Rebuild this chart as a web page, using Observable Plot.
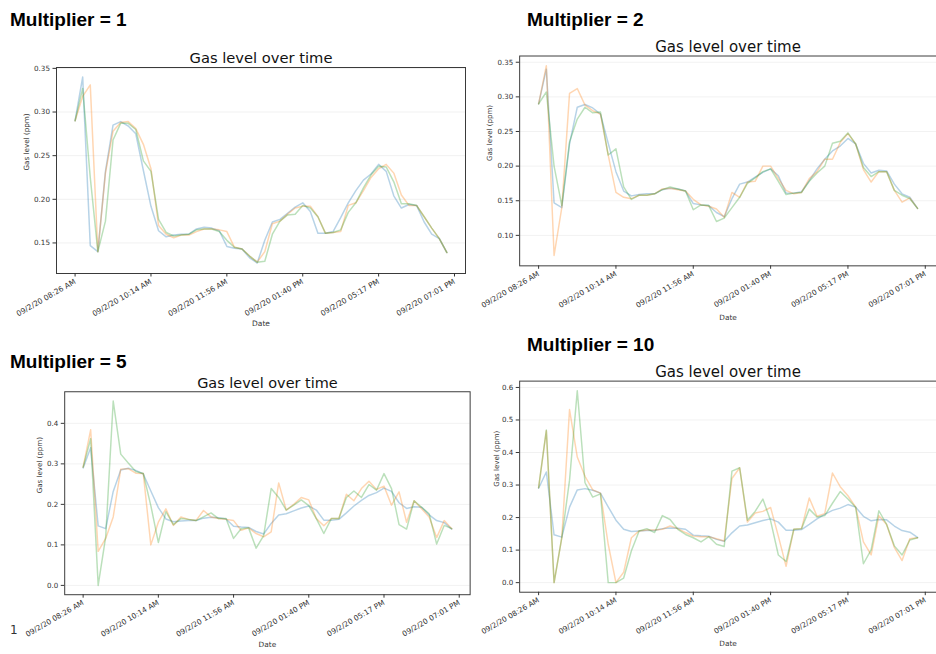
<!DOCTYPE html>
<html>
<head>
<meta charset="utf-8">
<script src="https://cdn.jsdelivr.net/npm/d3@7"></script>
<script src="https://cdn.jsdelivr.net/npm/@observablehq/plot@0.6"></script>
<style>
  html, body { margin: 0; padding: 0; background: #fff; overflow: hidden; }
  #root { position: relative; width: 936px; height: 654px; overflow: hidden; background: #fff; }
  .heading { position: absolute; font-family: "Liberation Sans", Arial, sans-serif; font-weight: bold; font-size: 19px; color: #000; white-space: nowrap; line-height: 22px; }
  .clip { position: absolute; overflow: hidden; }
  .clip svg { position: absolute; left: 0; top: 0; overflow: visible; }
  .stray { position: absolute; font-family: "DejaVu Sans", sans-serif; font-size: 12px; color: #333; }
</style>
</head>
<body>
<div id="root"></div>
<script>
// ---- data ----
const idx = d3.range(50);
const tickIdx = [0, 10, 20, 30, 40, 50];
const dateLabels = ["09/2/20 08:26 AM", "09/2/20 10:14 AM", "09/2/20 11:56 AM", "09/2/20 01:40 PM", "09/2/20 05:17 PM", "09/2/20 07:01 PM"];
const chartTitle = "Gas level over time";
const yLabel = "Gas level (ppm)";
const xLabel = "Date";
const headings = ["Multiplier = 1", "Multiplier = 2", "Multiplier = 5", "Multiplier = 10"];

const base = [0.290,0.340,0.147,0.140,0.232,0.285,0.289,0.284,0.275,0.233,0.192,0.164,0.157,0.159,0.160,0.160,0.166,0.168,0.167,0.164,0.146,0.144,0.143,0.133,0.127,0.153,0.174,0.177,0.184,0.191,0.196,0.186,0.161,0.161,0.163,0.179,0.196,0.210,0.222,0.229,0.240,0.232,0.204,0.190,0.194,0.193,0.174,0.160,0.155,0.139];

const orange1 = [0.290,0.318,0.331,0.140,0.230,0.278,0.288,0.289,0.281,0.263,0.235,0.170,0.160,0.156,0.159,0.159,0.163,0.166,0.166,0.165,0.163,0.145,0.143,0.135,0.128,0.140,0.172,0.175,0.183,0.190,0.192,0.192,0.180,0.161,0.162,0.163,0.193,0.196,0.210,0.225,0.235,0.240,0.230,0.205,0.193,0.193,0.180,0.167,0.155,0.139];
const green1 = [0.290,0.327,0.225,0.140,0.175,0.268,0.287,0.287,0.280,0.244,0.232,0.177,0.162,0.158,0.159,0.160,0.165,0.166,0.166,0.163,0.153,0.145,0.143,0.135,0.128,0.129,0.160,0.175,0.182,0.183,0.193,0.190,0.180,0.161,0.162,0.165,0.185,0.196,0.213,0.228,0.238,0.237,0.220,0.195,0.195,0.193,0.180,0.167,0.155,0.139];

const orange2 = [0.290,0.345,0.071,0.140,0.305,0.312,0.288,0.280,0.275,0.216,0.162,0.155,0.153,0.158,0.158,0.160,0.167,0.168,0.166,0.164,0.152,0.144,0.142,0.138,0.126,0.162,0.155,0.177,0.178,0.200,0.200,0.182,0.165,0.160,0.162,0.182,0.192,0.210,0.210,0.234,0.247,0.232,0.195,0.177,0.192,0.192,0.165,0.148,0.154,0.139];
const green2 = [0.290,0.307,0.200,0.143,0.235,0.268,0.285,0.277,0.278,0.216,0.225,0.170,0.152,0.158,0.158,0.160,0.166,0.170,0.167,0.164,0.137,0.144,0.143,0.120,0.125,0.140,0.155,0.175,0.183,0.192,0.196,0.178,0.159,0.161,0.162,0.178,0.190,0.200,0.233,0.236,0.248,0.232,0.198,0.185,0.192,0.192,0.165,0.158,0.153,0.139];

const orange5 = [0.292,0.384,0.084,0.116,0.169,0.287,0.288,0.277,0.276,0.100,0.156,0.189,0.148,0.169,0.163,0.160,0.185,0.169,0.165,0.163,0.160,0.136,0.142,0.128,0.120,0.132,0.253,0.186,0.200,0.217,0.211,0.165,0.147,0.165,0.165,0.225,0.209,0.239,0.257,0.237,0.245,0.198,0.231,0.156,0.209,0.189,0.169,0.118,0.160,0.140];
const green5 = [0.292,0.362,0.000,0.120,0.455,0.324,0.302,0.281,0.276,0.197,0.106,0.182,0.150,0.165,0.163,0.160,0.169,0.179,0.165,0.165,0.116,0.140,0.142,0.092,0.123,0.239,0.217,0.186,0.198,0.211,0.197,0.165,0.128,0.165,0.165,0.217,0.233,0.217,0.249,0.235,0.276,0.239,0.150,0.139,0.209,0.193,0.177,0.102,0.148,0.140];

const orange10 = [0.292,0.467,0.000,0.138,0.532,0.386,0.327,0.285,0.275,0.118,0.000,0.032,0.138,0.159,0.162,0.162,0.164,0.174,0.166,0.154,0.143,0.141,0.141,0.135,0.128,0.320,0.353,0.186,0.214,0.219,0.231,0.143,0.050,0.164,0.166,0.260,0.204,0.212,0.337,0.295,0.267,0.232,0.125,0.085,0.206,0.179,0.108,0.068,0.135,0.138];
const green10 = [0.292,0.469,0.000,0.138,0.315,0.590,0.307,0.263,0.273,0.000,0.000,0.014,0.098,0.159,0.166,0.154,0.206,0.194,0.164,0.148,0.138,0.125,0.141,0.118,0.111,0.343,0.353,0.192,0.219,0.257,0.190,0.085,0.065,0.164,0.166,0.226,0.202,0.206,0.244,0.280,0.257,0.232,0.058,0.101,0.221,0.179,0.113,0.085,0.131,0.138];

const yTicks2 = [0.15, 0.20, 0.25, 0.30, 0.35];
const yTicks2b = [0.10, 0.15, 0.20, 0.25, 0.30, 0.35];
const yTicks1 = [0.0, 0.1, 0.2, 0.3, 0.4];
const yTicks1b = [0.0, 0.1, 0.2, 0.3, 0.4, 0.5, 0.6];

const C_BLUE = "#1f77b4", C_ORANGE = "#ff7f0e", C_GREEN = "#2ca02c";

// ---- drawing ----
const root = document.getElementById("root");

function panel(cfg) {
  const line = (s, c) => Plot.line(idx, {x: d => d, y: d => s[d], stroke: c, strokeOpacity: 0.32, strokeWidth: 1.5});
  const svg = Plot.plot({
    width: cfg.W, height: cfg.H,
    marginLeft: cfg.ml, marginRight: cfg.mr, marginTop: cfg.mt, marginBottom: cfg.mb,
    x: {type: "linear", domain: [-2.45, 51.45], axis: null},
    y: {type: "linear", domain: cfg.yDomain, axis: null},
    style: {fontFamily: "DejaVu Sans, sans-serif", fontSize: "7px", background: "transparent", color: "#333", overflow: "visible"},
    marks: [
      Plot.gridY(cfg.yTicks, {stroke: "#000", strokeOpacity: 0.06, strokeWidth: 1}),
      line(base, C_BLUE),
      line(cfg.orange, C_ORANGE),
      line(cfg.green, C_GREEN),
      Plot.frame({stroke: "#3a3a3a", strokeWidth: 1}),
      Plot.axisX(tickIdx, {tickFormat: (d, i) => dateLabels[i], tickRotate: -30, tickSize: 3.5, tickPadding: 4, fontSize: 7.5, label: null, stroke: "#333", fill: "#333"}),
      Plot.axisY(cfg.yTicks, {tickFormat: cfg.yFmt, tickSize: 3.5, tickPadding: 3, fontSize: 7.2, label: null, stroke: "#333", fill: "#333"}),
      Plot.text([chartTitle], {frameAnchor: "top", lineAnchor: "middle", dy: cfg.titleDy, fontSize: cfg.titleSize, fill: "#111", text: d => d}),
      Plot.text([yLabel], {frameAnchor: "left", lineAnchor: "middle", dx: cfg.ylDx, rotate: -90, fontSize: 7.2, fill: "#333", text: d => d}),
      Plot.text([xLabel], {frameAnchor: "bottom", lineAnchor: "middle", dy: cfg.xlDy, fontSize: 7.5, fill: "#333", text: d => d})
    ]
  });
  const box = document.createElement("div");
  box.className = "clip";
  box.style.left = cfg.left + "px";
  box.style.top = cfg.top + "px";
  box.style.width = cfg.clipW + "px";
  box.style.height = cfg.clipH + "px";
  box.appendChild(svg);
  root.appendChild(box);

  const h = document.createElement("div");
  h.className = "heading";
  h.textContent = cfg.heading;
  h.style.left = cfg.hx + "px";
  h.style.top = cfg.hy + "px";
  root.appendChild(h);
}

panel({left: 0, top: 0, clipW: 470, clipH: 330, W: 470, H: 330, ml: 56, mr: 5, mt: 67, mb: 57,
  yDomain: [0.115, 0.351], yTicks: yTicks2, yFmt: d3.format(".2f"), orange: orange1, green: green1,
  titleDy: -9, titleSize: 14.7, ylDx: -30, xlDy: 50, heading: headings[0], hx: 10, hy: 9});

panel({left: 466, top: 0, clipW: 470, clipH: 330, W: 480, H: 330, ml: 54.3, mr: 0, mt: 56.7, mb: 59,
  yDomain: [0.056, 0.359], yTicks: yTicks2b, yFmt: d3.format(".2f"), orange: orange2, green: green2,
  titleDy: -9.5, titleSize: 15.3, ylDx: -31, xlDy: 53, heading: headings[1], hx: 527, hy: 9});

panel({left: 0, top: 330, clipW: 472, clipH: 324, W: 480, H: 330, ml: 65.3, mr: 2.4, mt: 62.3, mb: 61.3,
  yDomain: [-0.023, 0.478], yTicks: yTicks1, yFmt: d3.format(".1f"), orange: orange5, green: green5,
  titleDy: -9, titleSize: 14.7, ylDx: -25.3, xlDy: 51, heading: headings[2], hx: 10, hy: 351});

panel({left: 466, top: 330, clipW: 470, clipH: 324, W: 480, H: 330, ml: 54.3, mr: 0, mt: 51.7, mb: 62.7,
  yDomain: [-0.0295, 0.6195], yTicks: yTicks1b, yFmt: d3.format(".1f"), orange: orange10, green: green10,
  titleDy: -9, titleSize: 15.3, ylDx: -23.6, xlDy: 52.7, heading: headings[3], hx: 527, hy: 334});

const stray = document.createElement("div");
stray.className = "stray";
stray.textContent = "1";
stray.style.left = "10px";
stray.style.top = "623px";
root.appendChild(stray);
</script>
</body>
</html>
